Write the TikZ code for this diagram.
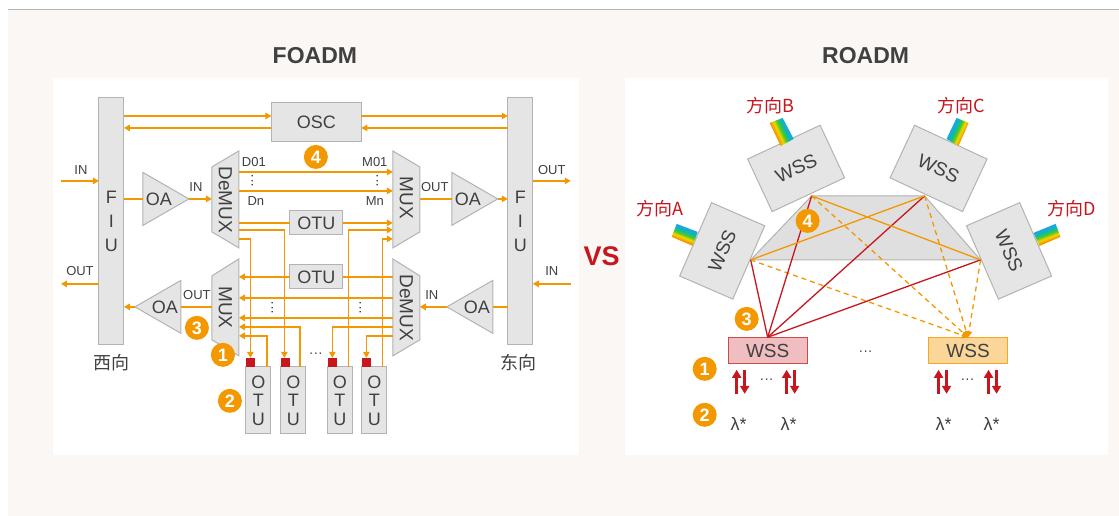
\documentclass[tikz,border=0pt]{standalone}
\usepackage{fontspec}
\setmainfont{Liberation Sans}
\newfontfamily\cjkfont{Noto Sans CJK SC}
\usetikzlibrary{shapes.geometric, arrows.meta, positioning, calc}
\definecolor{flowcolor}{RGB}{243, 152, 0}
\definecolor{redcolor}{RGB}{200, 22, 30}
\definecolor{boxcolor}{RGB}{229, 229, 229}
\definecolor{edgecolor}{RGB}{179, 179, 179}
\definecolor{textcolor}{RGB}{64, 64, 64}
\definecolor{pagecolor}{RGB}{250, 247, 244}
\pgfdeclareverticalshading{rainbowstub}{100bp}{rgb(0bp)=(0.97,0.58,0); rgb(37bp)=(0.97,0.58,0); rgb(44bp)=(0.93,0.85,0); rgb(50bp)=(0.35,0.78,0.1); rgb(56bp)=(0.05,0.75,0.6); rgb(63bp)=(0.1,0.65,0.88); rgb(100bp)=(0.1,0.65,0.88)}

\begin{document}
\begin{tikzpicture}[
    x=1pt, y=-1pt,
    every node/.style={text=textcolor},
    box/.style={draw=edgecolor, fill=boxcolor, line width=1pt, inner sep=0pt, outer sep=0pt, font=\fontsize{18}{20}\selectfont, align=center},
    fiubox/.style={box, minimum width=25pt, minimum height=247pt, font=\fontsize{18}{24.5}\selectfont},
    otubox/.style={box, minimum width=53pt, minimum height=24pt},
    slot/.style={box, minimum width=25pt, minimum height=67pt, font=\fontsize{18}{18.5}\selectfont},
    port/.style={fill=redcolor, minimum width=9pt, minimum height=9pt, inner sep=0pt},
    muxbody/.style={draw=edgecolor, fill=boxcolor, line width=1pt},
    muxlabel/.style={inner sep=0pt, rotate=-90, font=\fontsize{19}{20}\selectfont},
    oabox/.style={box, shape=isosceles triangle, isosceles triangle stretches=true, minimum width=53pt, minimum height=46pt},
    wssbox/.style={box, minimum width=80pt, minimum height=58pt, font=\fontsize{19}{20}\selectfont},
    flatwss/.style={draw, line width=1.2pt, inner sep=0pt, minimum width=79pt, minimum height=26pt, font=\fontsize{19}{20}\selectfont},
    badge/.style={circle, fill=flowcolor, minimum size=24pt, inner sep=0pt, text=white, font=\fontsize{18}{20}\selectfont\bfseries},
    small/.style={font=\fontsize{13}{15}\selectfont, inner sep=0pt},
    dotmark/.style={font=\fontsize{14}{16}\selectfont, inner sep=0pt},
    cjklabel/.style={font=\fontsize{18}{20}\cjkfont, inner sep=0pt},
    dirlabel/.style={cjklabel, text=redcolor},
    title/.style={font=\fontsize{23}{26}\selectfont\bfseries, inner sep=0pt},
    flow/.style={draw=flowcolor, line width=1.3pt},
    arrow/.style={flow, -{Triangle[length=6pt, width=6.5pt]}},
    dasharrow/.style={arrow, dash pattern=on 5pt off 4pt},
    redline/.style={draw=redcolor, line width=1.3pt},
    updown/.style={draw=redcolor, line width=3pt, -{Triangle[length=8pt, width=9pt]}}
]
    % Page and panels
    \fill[white] (0,0) rectangle (1119,516);
    \fill[pagecolor] (8,9) rectangle (1119,516);
    \draw[edgecolor, line width=1pt] (8,9.5) -- (1119,9.5);
    \fill[white] (53,78) rectangle (579,455);
    \fill[white] (625,78) rectangle (1108,455);
    \node[title] (foadm) at (315,56) {FOADM};
    \node[title] (roadm) at (866,56) {ROADM};
    \node[text=redcolor, inner sep=0pt, font=\fontsize{27}{30}\selectfont\bfseries] (vs) at (602,256) {VS};

    % FOADM main blocks
    \node[fiubox] (fiuw) at (111.5,221.5) {F\\I\\U};
    \node[fiubox, right=383pt of fiuw, xshift=1pt] (fiue) {F\\I\\U};
    \node[box, minimum width=90pt, minimum height=39pt] (osc) at (316.5,122) {OSC};
    \draw[muxbody] (212,167) -- (239,151) -- (239,248) -- (212,232) -- cycle;
    \draw[muxbody] (393,151) -- (420,167) -- (420,232) -- (393,248) -- cycle;
    \draw[muxbody] (212,276) -- (239,259) -- (239,356) -- (212,340) -- cycle;
    \draw[muxbody] (393,259) -- (420,276) -- (420,340) -- (393,356) -- cycle;
    \node[muxlabel] (demuxu) at (225.5,200) {DeMUX};
    \node[muxlabel] (muxu) at (406.5,198) {MUX};
    \node[muxlabel] (muxl) at (225.5,307.5) {MUX};
    \node[muxlabel] (demuxl) at (406.5,308) {DeMUX};
    \node[oabox, anchor=apex] (oauw) at (189,199) {OA};
    \node[oabox, anchor=apex] (oaue) at (498,199) {OA};
    \node[oabox, anchor=apex, shape border rotate=180] (oalw) at (135,307) {OA};
    \node[oabox, anchor=apex, shape border rotate=180] (oale) at (447,307) {OA};
    \node[otubox] (otuu) at (316.5,223) {OTU};
    \node[otubox] (otul) at (316.5,277) {OTU};

    % Tributary cards
    \foreach \name/\x in {a/258.5, b/293.5, c/340, d/374.5} {
        \node[slot] (otu\name) at (\x,400.5) {O\\T\\U};
    }
    \node[port] (porta) at (250.5,362.5) {};
    \node[port] (portb) at (285.5,362.5) {};
    \node[port] (portc) at (332.5,362.5) {};
    \node[port] (portd) at (366.5,362.5) {};

    % Side lines
    \coordinate (inw) at (61,181);
    \coordinate (outw) at (61,284);
    \coordinate (oute) at (571,181);
    \coordinate (ine) at (571,284);
    \draw[arrow] (inw) -- (inw -| fiuw.west);
    \draw[arrow] (outw -| fiuw.west) -- (outw);
    \draw[arrow] (oute -| fiue.east) -- (oute);
    \draw[arrow] (ine) -- (ine -| fiue.east);

    % OSC lines
    \draw[arrow] (fiuw.east |- 0,116) -- (osc.west |- 0,116);
    \draw[arrow] (osc.west |- 0,128) -- (fiuw.east |- 0,128);
    \draw[arrow] (osc.east |- 0,116) -- (fiue.west |- 0,116);
    \draw[arrow] (fiue.west |- 0,128) -- (osc.east |- 0,128);

    % Amplifier lines
    \draw[flow] (fiuw.east |- oauw.apex) -- (143,199);
    \draw[arrow] (oauw.apex) -- (212,199);
    \draw[flow] (420,199) -- (452,199);
    \draw[arrow] (oaue.apex) -- (fiue.west |- oaue.apex);
    \draw[arrow] (oalw.apex) -- (fiuw.east |- oalw.apex);
    \draw[flow] (212,307) -- (181,307);
    \draw[arrow] (oale.apex) -- (420,307);
    \draw[flow] (fiue.west |- oale.apex) -- (493,307);

    % Upper through lines
    \draw[arrow] (239,172) -- (393,172);
    \draw[arrow] (239,191) -- (393,191);
    \draw[flow] (239,223) -- (otuu.west);
    \draw[arrow] (otuu.east) -- (393,223);
    \draw[arrow] (239,230) -| (284.5,358);
    \draw[arrow] (239,239) -| (250.5,358);
    \draw[arrow] (349,367) |- (393,230);
    \draw[arrow] (382.4,367) |- (393,239);

    % Lower through lines
    \draw[arrow] (otul.west) -- (239,277);
    \draw[flow] (otul.east) -- (393,277);
    \draw[arrow] (393,298) -- (239,298);
    \draw[arrow] (393,318) -- (239,318);
    \draw[arrow] (300,367) |- (239,327);
    \draw[arrow] (267,367) |- (239,336);
    \draw[arrow] (393,327) -| (332.5,358);
    \draw[arrow] (393,336) -| (366.5,358);

    % FOADM labels
    \node[small] (lbinw) at (81,170) {IN};
    \node[small] (lboutw) at (80,271) {OUT};
    \node[small] (lboute) at (552,170) {OUT};
    \node[small] (lbine) at (552,271) {IN};
    \node[small] (lbinu) at (196,187) {IN};
    \node[small] (lboutu) at (435,187) {OUT};
    \node[small] (lboutl) at (197,295) {OUT};
    \node[small] (lbinl) at (432,295) {IN};
    \node[small] (dzero) at (254,162) {D01};
    \node[small] (dn) at (256,201) {Dn};
    \node[small] (mzero) at (375,162) {M01};
    \node[small] (mn) at (375,201) {Mn};
    \node[dotmark, rotate=90] (dotsa) at (254,181) {···};
    \node[dotmark, rotate=90] (dotsb) at (379,181) {···};
    \node[dotmark, rotate=90] (dotsc) at (274,308) {···};
    \node[dotmark, rotate=90] (dotsd) at (362,308) {···};
    \node[dotmark] (dotse) at (316,355) {···};
    \node[cjklabel] (west) at (112,363) {西向};
    \node[cjklabel] (east) at (519,363) {东向};
    \node[badge] (bfour) at (316,157) {4};
    \node[badge] (bthree) at (197,328) {3};
    \node[badge] (bone) at (223,355) {1};
    \node[badge] (btwo) at (230,401) {2};

    % ROADM mesh
    \node[wssbox, rotate=66.5] (wssa) at (722.5,251) {WSS};
    \node[wssbox, rotate=25] (wssb) at (796.5,168.5) {WSS};
    \node[wssbox, rotate=-25] (wssc) at (939,168.5) {WSS};
    \node[wssbox, rotate=-66.5] (wssd) at (1009.5,251) {WSS};
    \node[flatwss, draw=red!70!black!70!white, fill=redcolor!28] (wssr) at (768,351) {WSS};
    \node[flatwss, draw=flowcolor!85, fill=flowcolor!40] (wsso) at (968.5,351) {WSS};
    \coordinate (ca) at (751,260);
    \coordinate (cb) at (812,196);
    \coordinate (cc) at (925,196);
    \coordinate (cd) at (981,260);
    \draw[edgecolor, line width=1pt, fill=gray!25!white] (ca) -- (cb) -- (cc) -- (cd) -- cycle;
    \foreach \c in {ca, cb, cc, cd} {
        \draw[dasharrow] (\c) -- (wsso.north);
        \draw[redline] (wssr.north) -- (\c);
    }
    \draw[flow] (ca) -- (cc);
    \draw[flow] (cb) -- (cd);

    % Direction stubs
    \shade[shading=rainbowstub, shading angle=-21] (677,224) -- (698,232) -- (693,246) -- (672,237) -- cycle;
    \shade[shading=rainbowstub, shading angle=-65] (770,123) -- (783,118) -- (794,139) -- (781,146) -- cycle;
    \shade[shading=rainbowstub, shading angle=65] (957,118) -- (969,123) -- (959,146) -- (947,139) -- cycle;
    \shade[shading=rainbowstub, shading angle=21] (1034,233) -- (1056,224) -- (1061,237) -- (1040,246) -- cycle;
    \node[dirlabel] (dira) at (660,209) {方向A};
    \node[dirlabel] (dirb) at (771,106) {方向B};
    \node[dirlabel] (dirc) at (962,106) {方向C};
    \node[dirlabel] (dird) at (1072,209) {方向D};

    % Add and drop arrows
    \foreach \x in {737, 787, 939, 989} {
        \coordinate (up\x) at (\x,370);
        \coordinate (low\x) at (\x,394);
        \draw[updown] (low\x) -- (up\x);
        \draw[updown] ($(up\x)+(8,0)$) -- ($(low\x)+(8,0)$);
    }
    \node[dotmark] (dotsf) at (767,381) {···};
    \node[dotmark] (dotsg) at (968,381) {···};
    \node[dotmark] (dotsh) at (866,353) {···};
    \foreach \name/\x in {a/739, b/789, c/944, d/992} {
        \node[inner sep=0pt, font=\fontsize{18}{20}\selectfont] (lam\name) at (\x,424) {λ*};
    }
    \node[badge] (rfour) at (808,221) {4};
    \node[badge] (rthree) at (747,319) {3};
    \node[badge] (rone) at (705,369) {1};
    \node[badge] (rtwo) at (705,415) {2};
\end{tikzpicture}
\end{document}
